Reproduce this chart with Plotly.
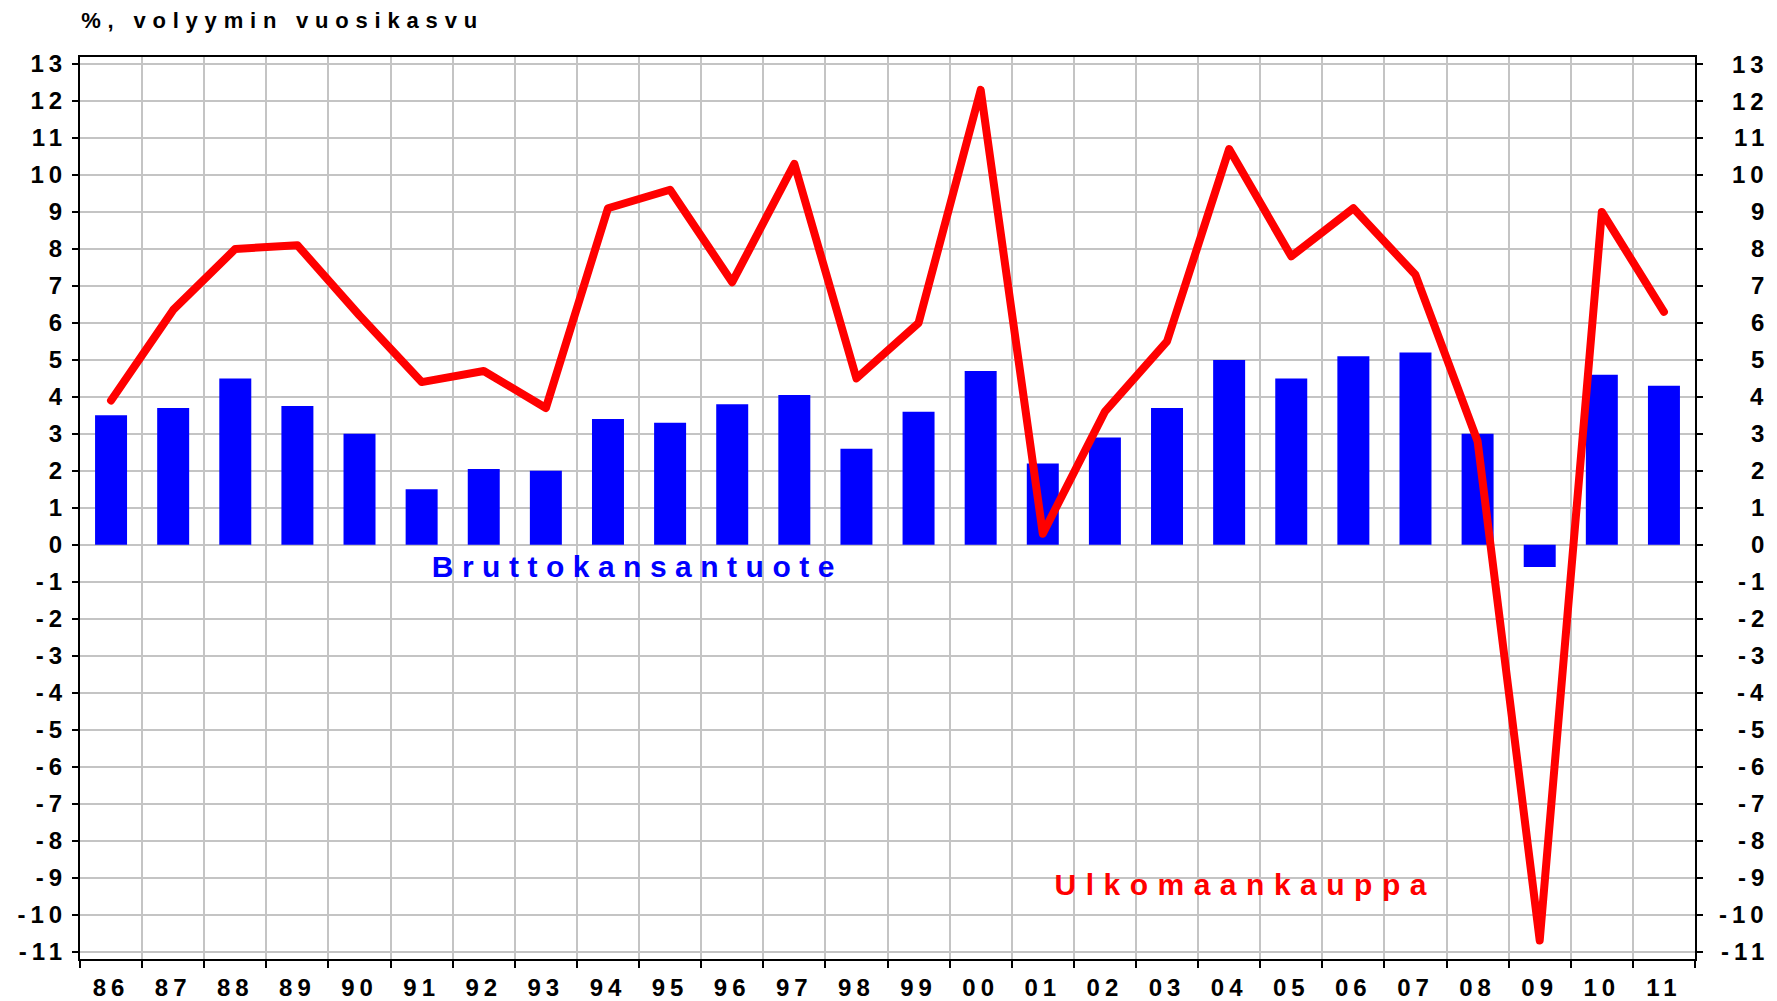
import json
import plotly.graph_objects as go

# ---------------- data ----------------
years = ["86", "87", "88", "89", "90", "91", "92", "93", "94", "95", "96", "97", "98",
         "99", "00", "01", "02", "03", "04", "05", "06", "07", "08", "09", "10", "11"]
gdp_growth = [3.5, 3.7, 4.5, 3.75, 3.0, 1.5, 2.05, 2.0, 3.4, 3.3, 3.8, 4.05, 2.6,
              3.6, 4.7, 2.2, 2.9, 3.7, 5.0, 4.5, 5.1, 5.2, 3.0, -0.6, 4.6, 4.3]
trade_growth = [3.9, 6.35, 8.0, 8.1, 6.2, 4.4, 4.7, 3.7, 9.1, 9.6, 7.1, 10.3, 4.5,
                6.0, 12.3, 0.3, 3.6, 5.5, 10.7, 7.8, 9.1, 7.3, 2.8, -10.7, 9.0, 6.3]
y_tick_values = list(range(-11, 14))
y_tick_labels = ["-11", "-10", "-9", "-8", "-7", "-6", "-5", "-4", "-3", "-2", "-1", "0",
                 "1", "2", "3", "4", "5", "6", "7", "8", "9", "10", "11", "12", "13"]
title_text = "%, volyymin vuosikasvu"
gdp_label = "Bruttokansantuote"
trade_label = "Ulkomaankauppa"

# ---------------- style ----------------
FONT = "Liberation Sans, Arial, sans-serif"
GRID = "#c4c4c4"
TICK_SIZE = 24
TICK_SPACING = 5

fig = go.Figure()
fig.add_trace(go.Bar(x=years, y=gdp_growth, marker=dict(color="#0000ff", line=dict(width=0)),
                     name=gdp_label, showlegend=False))
fig.add_trace(go.Scatter(x=years, y=trade_growth, mode="lines",
                         line=dict(color="#ff0000", width=8), name=trade_label,
                         showlegend=False))

annotations = []
spacings = []
annotations.append(dict(text=title_text, x=0.1255, y=1.041, xref="paper", yref="paper",
                        xanchor="center", yanchor="middle", showarrow=False,
                        font=dict(family=FONT, size=22, color="black", weight="bold")))
spacings.append(6.8)
annotations.append(dict(text=gdp_label, x=0.3453, y=0.435, xref="paper", yref="paper",
                        xanchor="center", yanchor="middle", showarrow=False,
                        font=dict(family=FONT, size=30, color="#0000ff", weight="bold")))
spacings.append(8.5)
annotations.append(dict(text=trade_label, x=0.7218, y=0.0831, xref="paper", yref="paper",
                        xanchor="center", yanchor="middle", showarrow=False,
                        font=dict(family=FONT, size=30, color="#ff0000", weight="bold")))
spacings.append(9.5)
for v, lab in zip(y_tick_values, y_tick_labels):
    annotations.append(dict(text=lab, x=1, xref="paper", y=v, yref="y", xshift=76,
                            xanchor="right", yanchor="middle", align="right", showarrow=False,
                            font=dict(family=FONT, size=TICK_SIZE, color="black", weight="bold")))
    spacings.append(TICK_SPACING)

fig.update_layout(
    width=1777, height=1001,
    margin=dict(l=80, r=82, t=57, b=42, pad=0),
    paper_bgcolor="white", plot_bgcolor="white",
    bargap=0.485,
    font=dict(family=FONT, size=TICK_SIZE, color="black", weight="bold"),
    annotations=annotations,
    xaxis=dict(type="category", categoryorder="array", categoryarray=years,
               tickson="boundaries", ticks="outside", ticklen=7, tickwidth=1.5,
               tickcolor="black", showgrid=True, gridcolor=GRID, gridwidth=1.5,
               showline=True, linecolor="black", linewidth=2, mirror=True,
               tickfont=dict(family=FONT, size=TICK_SIZE, color="black", weight="bold"),
               ticklabelstandoff=6, automargin=False, range=[-0.5, len(years) - 0.5]),
    yaxis=dict(range=[-11.2, 13.19], tickvals=y_tick_values, ticktext=y_tick_labels,
               ticks="outside", ticklen=6, tickwidth=1.5, tickcolor="black",
               showgrid=True, gridcolor=GRID, gridwidth=1.5, zeroline=False,
               showline=True, linecolor="black", linewidth=2, mirror="ticks",
               tickfont=dict(family=FONT, size=TICK_SIZE, color="black", weight="bold"),
               ticklabelstandoff=0, automargin=False),
)

post = """
document.body.style.margin = '0';
document.body.style.overflow = 'hidden';
var gd = document.getElementById('{plot_id}');
var SP = %s;
var TS = %s;
function fixStyle(){
  gd.querySelectorAll('.xtick text, .ytick text').forEach(function(t){ t.style.letterSpacing = TS + 'px'; });
  gd.querySelectorAll('g.annotation').forEach(function(g){
    var i = +g.getAttribute('data-index');
    var t = g.querySelector('text');
    if (t && SP[i] !== undefined) { t.style.letterSpacing = SP[i] + 'px'; }
  });
  gd.querySelectorAll('path.js-line').forEach(function(p){
    p.style.strokeLinejoin = 'round'; p.style.strokeLinecap = 'round';
  });
}
fixStyle();
gd.on('plotly_afterplot', fixStyle);
""" % (json.dumps(spacings), json.dumps(TICK_SPACING))

fig.write_html("out.html", post_script=post, config={"displayModeBar": False})
